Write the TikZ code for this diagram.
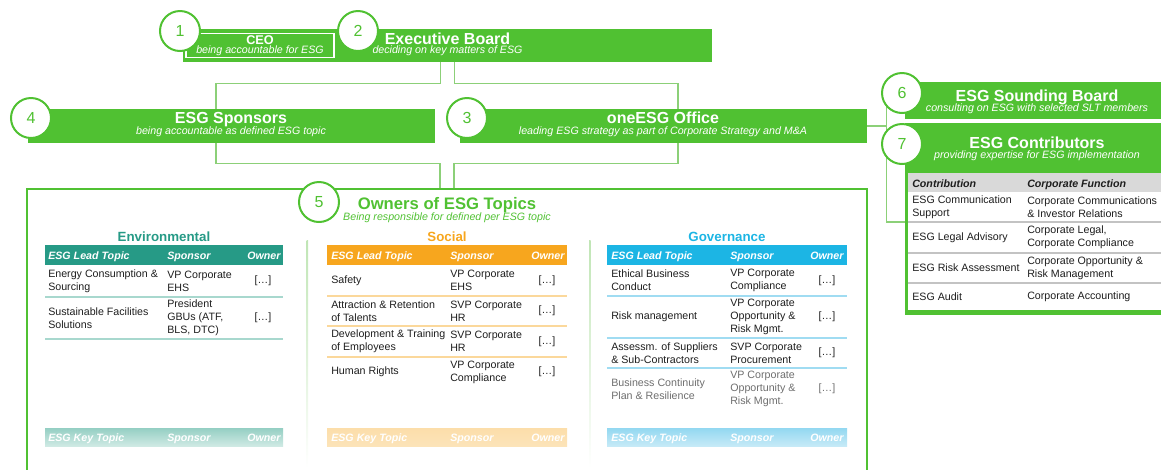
\documentclass[tikz,border=0pt]{standalone}
\usepackage{fontspec}
\setmainfont{Liberation Sans}
\usetikzlibrary{calc,fit,backgrounds}
\definecolor{ggreen}{RGB}{80,193,50}
\definecolor{lgreen}{RGB}{140,208,120}
\definecolor{teal1}{RGB}{38,154,134}
\definecolor{teal2}{RGB}{168,216,206}
\definecolor{orng}{RGB}{247,166,30}
\definecolor{orng2}{RGB}{251,216,155}
\definecolor{blu}{RGB}{28,181,228}
\definecolor{blu2}{RGB}{160,220,242}
\definecolor{txt}{RGB}{30,30,30}
\definecolor{fadetxt}{RGB}{110,110,110}
\definecolor{hgray}{RGB}{217,217,217}
\definecolor{sgray}{RGB}{195,195,195}
\begin{document}
\begin{tikzpicture}[x=0.75pt,y=-0.75pt,
 bar/.style={fill=ggreen, draw=none, inner sep=0pt},
 num/.style={circle, draw=ggreen, line width=1.5pt, fill=white, minimum size=30pt, inner sep=0pt, text=ggreen, font=\fontsize{12}{12}\selectfont},
 ttl/.style={anchor=base, inner sep=0pt, text=white, font=\bfseries\fontsize{12}{12}\selectfont},
 sub/.style={anchor=base, inner sep=0pt, text=white, font=\itshape\fontsize{8}{8}\selectfont},
 link/.style={draw=lgreen, line width=1pt},
 colhd/.style={anchor=base, inner sep=0pt, font=\bfseries\fontsize{10}{10}\selectfont},
 thd/.style={anchor=base west, inner sep=0pt, text=white, font=\bfseries\itshape\fontsize{8}{8}\selectfont},
 cell/.style={anchor=west, inner sep=0pt, align=left, text=txt, font=\fontsize{8}{9.6}\selectfont},
 own/.style={anchor=center, inner sep=0pt, text=txt, font=\fontsize{8}{9.6}\selectfont},
]
\useasboundingbox (0,0) rectangle (1161,469);
\clip (0,0) rectangle (1161,469);

% owners box and dividers
\node[draw=ggreen, line width=1.5pt, inner sep=0pt, fit={(27,189) (867,500)}] (ow) {};
\shade[top color=lgreen!55!white, bottom color=white] (306.5,240) rectangle (308,468);
\shade[top color=lgreen!55!white, bottom color=white] (589,240) rectangle (590.5,468);

% bars
\node[bar, fit={(183,29) (712,62)}] (eb) {};
\node[bar, fit={(28,109) (435,143)}] (sp) {};
\node[bar, fit={(460,109) (867,143)}] (of) {};
\node[bar, fit={(905,82) (1170,119)}] (sb) {};
\node[bar, fit={(905,123) (1170,315)}] (cb) {};

% connectors
\begin{scope}[on background layer]
\draw[link] ($(eb.south)+(-7,0)$) -- ++(0,21) -| ($(sp.north)+(-15.5,0)$);
\draw[link] ($(eb.south)+(7,0)$) -- ++(0,21) -| ($(of.north)+(14.5,0)$);
\draw[link] ($(sp.south)+(-15.5,0)$) -- ++(0,20) -| ($(ow.north)+(-7,0)$);
\draw[link] ($(of.south)+(14.5,0)$) -- ++(0,20) -| ($(ow.north)+(7,0)$);
\draw[link] (of.east) -- ++(20,0);
\draw[link] (sb.west) -- ++(-18,0) |- ($(cb.west)+(0,3)$);
\end{scope}

% CEO box
\node[draw=white, line width=1pt, inner sep=0pt, fit={(186,33.5) (334,57.5)}] (ceo) {};
\node[ttl, font=\bfseries\fontsize{9.5}{9.5}\selectfont] (ceot) at (260,44) {CEO};
\node[sub] (ceos) at (260,53.5) {being accountable for ESG};

% titles
\node[ttl] (ebt) at (447.5,44) {Executive Board};
\node[sub] (ebs) at (447.5,53.5) {deciding on key matters of ESG};
\node[ttl] (spt) at (231,123) {ESG Sponsors};
\node[sub] (sps) at (231,134) {being accountable as defined ESG topic};
\node[ttl] (oft) at (663,123) {oneESG Office};
\node[sub] (ofs) at (663,134) {leading ESG strategy as part of Corporate Strategy and M\&A};
\node[ttl] (sbt) at (1037,101) {ESG Sounding Board};
\node[sub] (sbs) at (1037,111) {consulting on ESG with selected SLT members};
\node[ttl] (cbt) at (1037,148) {ESG Contributors};
\node[sub] (cbs) at (1037,158) {providing expertise for ESG implementation};
\node[ttl, text=ggreen, font=\bfseries\fontsize{12.5}{12.5}\selectfont] (owt) at (447,209) {Owners of ESG Topics};
\node[sub, text=ggreen] (ows) at (447,220) {Being responsible for defined per ESG topic};

% circles
\node[num] (c1) at (180,31) {1};
\node[num] (c2) at (358,31) {2};
\node[num] (c3) at (467,118) {3};
\node[num] (c4) at (31,118) {4};
\node[num] (c5) at (319,202) {5};
\node[num] (c6) at (902,93) {6};
\node[num] (c7) at (902,144) {7};

% contributors table
\fill[white] (908,173) rectangle (1170,310);
\fill[hgray] (908,173) rectangle (1170,192);
\foreach \yy in {222,253,283} \draw[sgray, line width=0.8pt] (908,\yy) -- (1170,\yy);
\node[thd, text=txt] (cth1) at (912,187) {Contribution};
\node[thd, text=txt] (cth2) at (1027,187) {Corporate Function};
\node[cell] (cr1a) at (912,207) {ESG Communication\\Support};
\node[cell] (cr1b) at (1027,207) {Corporate Communications\\\& Investor Relations};
\node[cell] (cr2a) at (912,237.5) {ESG Legal Advisory};
\node[cell] (cr2b) at (1027,237.5) {Corporate Legal,\\Corporate Compliance};
\node[cell] (cr3a) at (912,268) {ESG Risk Assessment};
\node[cell] (cr3b) at (1027,268) {Corporate Opportunity \&\\Risk Management};
\node[cell] (cr4a) at (912,297) {ESG Audit};
\node[cell] (cr4b) at (1027,297) {Corporate Accounting};

% Environmental
\node[colhd, text=teal1] (envh) at (164,241) {Environmental};
\fill[teal1] (45,245) rectangle (283,265);
\node[thd] (eh1) at (48,259) {ESG Lead Topic};
\node[thd] (eh2) at (167,259) {Sponsor};
\node[thd] (eh3) at (247,259) {Owner};
\foreach \yy in {297,339} \draw[teal2, line width=1.5pt] (45,\yy) -- (283,\yy);
\node[cell] (e1a) at (48,281) {Energy Consumption \&\\Sourcing};
\node[cell] (e1b) at (167,281) {VP Corporate\\EHS};
\node[own] (e1c) at (263,281) {[…]};
\node[cell] (e2a) at (48,318) {Sustainable Facilities\\Solutions};
\node[cell] (e2b) at (167,318) {President\\GBUs (ATF,\\BLS, DTC)};
\node[own] (e2c) at (263,318) {[…]};

% Social
\node[colhd, text=orng] (soch) at (447,241) {Social};
\fill[orng] (327,245) rectangle (567,265);
\node[thd] (sh1) at (331,259) {ESG Lead Topic};
\node[thd] (sh2) at (450,259) {Sponsor};
\node[thd] (sh3) at (531,259) {Owner};
\foreach \yy in {296,326,357} \draw[orng2, line width=1.5pt] (327,\yy) -- (567,\yy);
\node[cell] (s1a) at (331,280.5) {Safety};
\node[cell] (s1b) at (450,280.5) {VP Corporate\\EHS};
\node[own] (s1c) at (547,280.5) {[…]};
\node[cell] (s2a) at (331,311) {Attraction \& Retention\\of Talents};
\node[cell] (s2b) at (450,311) {SVP Corporate\\HR};
\node[own] (s2c) at (547,311) {[…]};
\node[cell] (s3a) at (331,341.5) {Development \& Training\\of Employees};
\node[cell] (s3b) at (450,341.5) {SVP Corporate\\HR};
\node[own] (s3c) at (547,341.5) {[…]};
\node[cell] (s4a) at (331,372) {Human Rights};
\node[cell] (s4b) at (450,372) {VP Corporate\\Compliance};
\node[own] (s4c) at (547,372) {[…]};

% Governance
\node[colhd, text=blu] (govh) at (727,241) {Governance};
\fill[blu] (607,245) rectangle (847,265);
\node[thd] (gh1) at (611,259) {ESG Lead Topic};
\node[thd] (gh2) at (730,259) {Sponsor};
\node[thd] (gh3) at (810,259) {Owner};
\foreach \yy in {296,338,368} \draw[blu2, line width=1.5pt] (607,\yy) -- (847,\yy);
\node[cell] (g1a) at (611,280.5) {Ethical Business\\Conduct};
\node[cell] (g1b) at (730,280.5) {VP Corporate\\Compliance};
\node[own] (g1c) at (827,280.5) {[…]};
\node[cell] (g2a) at (611,317) {Risk management};
\node[cell] (g2b) at (730,317) {VP Corporate\\Opportunity \&\\Risk Mgmt.};
\node[own] (g2c) at (827,317) {[…]};
\node[cell] (g3a) at (611,353) {Assessm. of Suppliers\\\& Sub-Contractors};
\node[cell] (g3b) at (730,353) {SVP Corporate\\Procurement};
\node[own] (g3c) at (827,353) {[…]};
\node[cell, text=fadetxt] (g4a) at (611,389) {Business Continuity\\Plan \& Resilience};
\node[cell, text=fadetxt] (g4b) at (730,389) {VP Corporate\\Opportunity \&\\Risk Mgmt.};
\node[own, text=fadetxt] (g4c) at (827,389) {[…]};

% faded key-topic headers
\shade[top color=teal2!85!teal1, bottom color=teal2!55!white] (45,428) rectangle (283,446);
\shade[top color=orng2!85!white, bottom color=orng2!70!white] (327,428) rectangle (567,446);
\shade[top color=blu2!90!blu, bottom color=blu2!60!white] (607,428) rectangle (847,446);
\node[thd] (ek1) at (48,441) {ESG Key Topic};
\node[thd] (ek2) at (167,441) {Sponsor};
\node[thd] (ek3) at (247,441) {Owner};
\node[thd] (sk1) at (331,441) {ESG Key Topic};
\node[thd] (sk2) at (450,441) {Sponsor};
\node[thd] (sk3) at (531,441) {Owner};
\node[thd] (gk1) at (611,441) {ESG Key Topic};
\node[thd] (gk2) at (730,441) {Sponsor};
\node[thd] (gk3) at (810,441) {Owner};
\end{tikzpicture}
\end{document}
